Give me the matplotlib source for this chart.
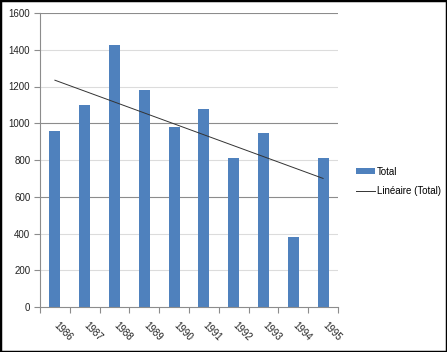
import numpy as np
import matplotlib

matplotlib.use("Agg")
import matplotlib.pyplot as plt
from matplotlib.patches import Rectangle

# bar data
years = ["1986", "1987", "1988", "1989", "1990", "1991", "1992", "1993", "1994", "1995"]
totals = [960, 1100, 1425, 1180, 980, 1080, 810, 945, 380, 810]
y_ticks = [0, 200, 400, 600, 800, 1000, 1200, 1400, 1600]

BAR_COLOR = "#4f81bd"

plt.rcParams["font.family"] = ["Liberation Sans", "DejaVu Sans"]

fig = plt.figure(figsize=(4.47, 3.52), dpi=100)
ax = fig.add_axes([40 / 447, 45 / 352, 298 / 447, 294 / 352])

x = np.arange(len(years))

# gridlines (Excel render makes some look darker)
dark = {1600, 1000, 600}
for t in y_ticks[1:]:
    ax.axhline(t, color="#8c8c8c" if t in dark else "#dcdcdc", lw=0.8, zorder=0)

bars = ax.bar(x, totals, width=0.37, color=BAR_COLOR, zorder=2, label="Total")

# linear trendline
slope, inter = np.polyfit(x, totals, 1)
trend, = ax.plot(x, slope * x + inter, color="#333333", lw=0.7, zorder=3,
                 label="Linéaire (Total)")

ax.set_xlim(-0.5, len(years) - 0.5)
ax.set_ylim(0, 1600)
ax.set_yticks(y_ticks)
ax.set_yticklabels([str(t) for t in y_ticks], fontsize=7, color="#222222")

ax.set_xticks(np.arange(len(years) + 1) - 0.5)
ax.set_xticklabels([])
ax.tick_params(axis="x", length=4, color="#8c8c8c", width=0.8)
ax.tick_params(axis="y", length=4, color="#8c8c8c", width=0.8, pad=3)
for i, yr in enumerate(years):
    ax.text(i + 0.03, -90, yr, rotation=-45, rotation_mode="anchor", ha="left", va="center",
            fontsize=7, color="#222222")

for side in ["top", "right"]:
    ax.spines[side].set_visible(False)
for side in ["left", "bottom"]:
    ax.spines[side].set_color("#8c8c8c")
    ax.spines[side].set_linewidth(0.8)

fig.legend([bars, trend], ["Total", "Linéaire (Total)"], loc="upper left",
           bbox_to_anchor=(347 / 447, 1 - 158 / 352), frameon=False,
           fontsize=7, handlelength=2.0, handleheight=0.6, labelspacing=1.0,
           handletextpad=0.2)

# outer black frame
fig.patches.append(Rectangle((0, 0), 1, 1, transform=fig.transFigure, fill=False,
                             edgecolor="black", lw=2.5))

fig.savefig("out.png", dpi=100)
